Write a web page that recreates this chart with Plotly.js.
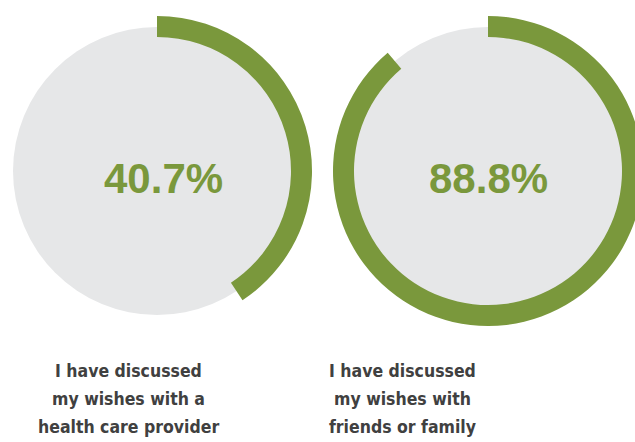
<!DOCTYPE html>
<html>
<head>
<meta charset="utf-8">
<script src="https://cdn.plot.ly/plotly-3.0.1.min.js"></script>
<style>
html,body{margin:0;padding:0;background:#fff;overflow:hidden;width:635px;height:442px;}
#chart{width:660px;height:442px;}
</style>
</head>
<body>
<div id="chart"></div>
<script>
// ---- data ----
const percentages = [40.7, 88.8];
const labelLines = [
  ["I have discussed", "my wishes with a", "health care provider"],
  ["I have discussed", "my wishes with", "friends or family"]
];
const valueText = ["40.7%", "88.8%"];

// ---- layout helpers ----
const W = 660, H = 442;
const green = "#7a983c", grey = "#e6e7e8", textGrey = "#404040";
const centers = [[157, 171], [488, 171]];
const greyR = 144, outerR = 155, innerR = 134;
const pctPos = [[163, 178], [488, 178]];
const labelX = [128, 402];
const lineTops = [359, 387, 415];

function dom(cx, cy, r) {
  return {x: [(cx - r) / W, (cx + r) / W], y: [(H - cy - r) / H, (H - cy + r) / H]};
}

const traces = [];
const annotations = [];
percentages.forEach((p, i) => {
  const [cx, cy] = centers[i];
  traces.push({
    type: "pie", values: [1], labels: ["bg" + i], domain: dom(cx, cy, greyR),
    marker: {colors: [grey], line: {width: 0}}, textinfo: "none", hoverinfo: "skip",
    sort: false, showlegend: false
  });
  traces.push({
    type: "pie", values: [p, 100 - p], labels: ["yes" + i, "rest" + i],
    domain: dom(cx, cy, outerR), hole: innerR / outerR,
    marker: {colors: [green, "rgba(0,0,0,0)"], line: {width: 0}},
    textinfo: "none", hoverinfo: "skip", sort: false, direction: "clockwise",
    rotation: 0, showlegend: false
  });
  annotations.push({
    xref: "paper", yref: "paper", x: pctPos[i][0] / W, y: (H - pctPos[i][1]) / H,
    xanchor: "center", yanchor: "middle", showarrow: false, text: valueText[i],
    font: {family: "Liberation Sans, Arial, sans-serif", size: 42, color: green, weight: "bold"}
  });
  labelLines[i].forEach((line, j) => {
    annotations.push({
      xref: "paper", yref: "paper", x: labelX[i] / W, y: (H - lineTops[j]) / H,
      xanchor: "center", yanchor: "top", showarrow: false, text: line,
      font: {family: "DejaVu Sans Condensed, DejaVu Sans, sans-serif", size: 17.5, color: textGrey, weight: "bold", stretch: "condensed"}
    });
  });
});

Plotly.newPlot("chart", traces, {
  width: W, height: H, margin: {l: 0, r: 0, t: 0, b: 0},
  paper_bgcolor: "#fff", plot_bgcolor: "#fff", showlegend: false,
  annotations: annotations
}, {displayModeBar: false, staticPlot: true});
</script>
</body>
</html>
